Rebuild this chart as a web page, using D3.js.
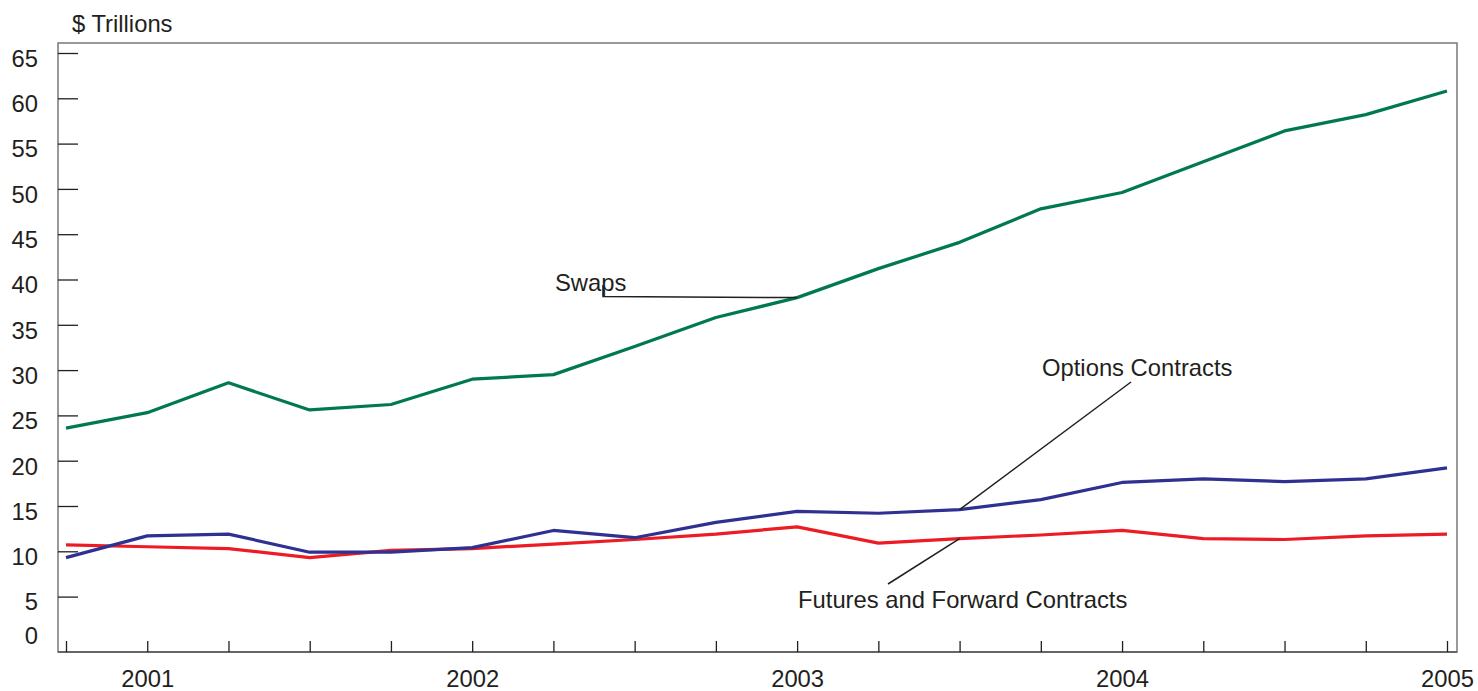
<!DOCTYPE html>
<html>
<head>
<meta charset="utf-8">
<script src="https://cdn.jsdelivr.net/npm/d3@7"></script>
<style>
  html, body { margin: 0; padding: 0; background: #fff; }
  svg { display: block; }
  text { font-family: "Liberation Sans", Arial, Helvetica, sans-serif; fill: #231f20; }
</style>
</head>
<body>
<svg id="chart" width="1478" height="691"></svg>
<script>
// ---- Data (quarter-end notional amounts, $ trillions) ----
const quarters = ["2000Q4","2001Q1","2001Q2","2001Q3","2001Q4","2002Q1","2002Q2","2002Q3","2002Q4",
                  "2003Q1","2003Q2","2003Q3","2003Q4","2004Q1","2004Q2","2004Q3","2004Q4","2005Q1"];
const swaps   = [23.6,25.3,28.6,25.6,26.2,29.0,29.5,32.6,35.8,38.0,41.2,44.1,47.8,49.6,53.0,56.4,58.2,60.8];
const options = [9.3,11.7,11.9,9.9,9.9,10.4,12.3,11.5,13.2,14.4,14.2,14.6,15.7,17.6,18.0,17.7,18.0,19.2];
const futures = [10.7,10.5,10.3,9.3,10.1,10.3,10.8,11.3,11.9,12.7,10.9,11.4,11.8,12.3,11.4,11.3,11.7,11.9];
const yTicks  = [0,5,10,15,20,25,30,35,40,45,50,55,60,65];
const seriesNames = ["Swaps","Options Contracts","Futures and Forward Contracts"];
const unitLabel = "$ Trillions";

// ---- Layout ----
const L = 58, R = 1457, T = 43, B = 652;
const FS = "23.8px";
const svg = d3.select("#chart");

const x = d3.scalePoint().domain(quarters).range([66, 1447]);
const y = d3.scaleLinear().domain([0, 65]).range([641.9, 53]);

// Frame
svg.append("rect")
  .attr("x", L).attr("y", T).attr("width", R - L).attr("height", B - T)
  .attr("fill", "none").attr("stroke", "#808080").attr("stroke-width", 1.6);
svg.append("line").attr("x1", L).attr("x2", R).attr("y1", B).attr("y2", B)
  .attr("stroke", "#555").attr("stroke-width", 1.6);

// Y axis (ticks inward)
const yAxis = svg.append("g").attr("transform", `translate(${L},0)`)
  .call(d3.axisLeft(y).tickValues(yTicks).tickSizeInner(-20).tickSizeOuter(0).tickPadding(20));
yAxis.select(".domain").remove();
yAxis.selectAll(".tick line").attr("stroke", "#231f20").attr("stroke-width", 1.3)
  .filter(d => d === 0).remove();
yAxis.selectAll(".tick text")
  .attr("dy", "0.35em")
  .attr("y", d => d === 0 ? -7 : 5)
  .style("font-size", FS).attr("fill", "#231f20");

// X axis (ticks inward)
const xAxis = svg.append("g").attr("transform", `translate(0,${B})`)
  .call(d3.axisBottom(x).tickSizeInner(-11).tickSizeOuter(0)
        .tickFormat(q => q.endsWith("Q1") ? q.slice(0, 4) : ""));
xAxis.select(".domain").remove();
xAxis.selectAll(".tick line").attr("stroke", "#231f20").attr("stroke-width", 1.3);
xAxis.selectAll(".tick text").attr("y", 35).attr("dy", 0)
  .style("font-size", FS).attr("fill", "#231f20");

// Unit label
svg.append("text").attr("x", 72).attr("y", 32).style("font-size", FS).text(unitLabel);

// Lines
const line = d3.line().x((d, i) => x(quarters[i])).y(d => y(d));
const series = [
  { values: futures, color: "#ed1c24" },
  { values: options, color: "#2e3192" },
  { values: swaps,   color: "#007a4d" }
];
series.forEach(s => {
  svg.append("path").datum(s.values)
    .attr("d", line).attr("fill", "none")
    .attr("stroke", s.color).attr("stroke-width", 3.2)
    .attr("stroke-linejoin", "round");
});

// Annotations with leader lines
const leader = "#231f20";
// Swaps
svg.append("text").attr("x", 555).attr("y", 291).style("font-size", FS).text(seriesNames[0]);
svg.append("path")
  .attr("d", `M603,285 L603,296.5 L${x(quarters[9])},${y(swaps[9])}`)
  .attr("fill", "none").attr("stroke", leader).attr("stroke-width", 1.5);
// Options
svg.append("text").attr("x", 1042).attr("y", 376).style("font-size", FS).text(seriesNames[1]);
svg.append("line")
  .attr("x1", 1131).attr("y1", 382).attr("x2", x(quarters[11])).attr("y2", y(options[11]))
  .attr("stroke", leader).attr("stroke-width", 1.5);
// Futures
svg.append("text").attr("x", 798).attr("y", 608).style("font-size", FS).text(seriesNames[2]);
svg.append("line")
  .attr("x1", 888).attr("y1", 584).attr("x2", x(quarters[11])).attr("y2", y(futures[11]))
  .attr("stroke", leader).attr("stroke-width", 1.5);
</script>
</body>
</html>
